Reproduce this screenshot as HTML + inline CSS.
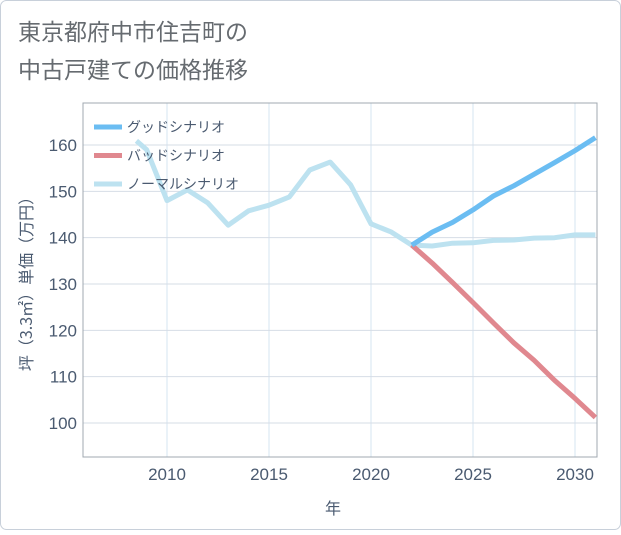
<!DOCTYPE html>
<html><head><meta charset="utf-8"><style>
body{margin:0;background:#fff;}
#wrap{position:relative;width:621px;height:530px;font-family:"Liberation Sans","Noto Sans CJK JP",sans-serif;}
</style></head><body>
<div id="wrap">
<svg id="chart" width="621" height="530" xmlns="http://www.w3.org/2000/svg">
<rect x="0.5" y="0.5" width="620" height="529" rx="6" fill="#fff" stroke="#c8d0da"/>
<text x="18" y="40" font-size="23" fill="#666b70" font-family="Noto Sans CJK JP, sans-serif">東京都府中市住吉町の</text>
<text x="18" y="78" font-size="23" fill="#666b70" font-family="Noto Sans CJK JP, sans-serif">中古戸建ての価格推移</text>
<g id="grid"></g>
<g id="series"></g>
<g id="legend"></g>
<text x="333" y="514" font-size="16" fill="#4a5a70" text-anchor="middle" font-family="Noto Sans CJK JP, sans-serif">年</text>
<text transform="translate(32,280) rotate(-90)" font-size="16" fill="#4a5a70" text-anchor="middle" font-family="Noto Sans CJK JP, sans-serif">坪（3.3㎡）単価（万円）</text>
</svg>
</div>
<script>
const xTicks=[2010,2015,2020,2025,2030];
const yTicks=[100,110,120,130,140,150,160];
const normalYears=[2008.5,2009,2010,2011,2012,2013,2014,2015,2016,2017,2018,2019,2020,2021,2022,2023,2024,2025,2026,2027,2028,2029,2030,2031];
const normalVals=[160.9,159,148,150.3,147.5,142.7,145.8,147,148.8,154.6,156.3,151.4,143,141.2,138.4,138.2,138.8,138.9,139.4,139.5,139.9,140,140.6,140.6];
const futureYears=[2022,2023,2024,2025,2026,2027,2028,2029,2030,2031];
const goodVals=[138.4,141.2,143.3,146,149,151.2,153.7,156.2,158.8,161.6];
const badVals=[138.4,134.5,130.3,126,121.6,117.3,113.5,109.2,105.3,101.2];
const seriesNames=['グッドシナリオ','バッドシナリオ','ノーマルシナリオ'];
const seriesColors=['#6bbdf2','#e0888f','#bde2f0'];

const L=83,R=597,T=103,B=457;
const X=y=>167+(y-2010)*20.4;
const Y=v=>145+(160-v)*4.633;
const NS='http://www.w3.org/2000/svg';
function mk(tag,attrs,parent,txt){const e=document.createElementNS(NS,tag);for(const k in attrs)e.setAttribute(k,attrs[k]);if(txt!==undefined)e.textContent=txt;parent.appendChild(e);return e;}
const grid=document.getElementById('grid');
xTicks.forEach(t=>{
 const l=mk('line',{x1:X(t),x2:X(t),y1:T,y2:B,stroke:'#d6e4f0','stroke-width':1},grid);
 
 
 const tx=mk('text',{x:X(t),y:480,'font-size':17,fill:'#4a5a70','text-anchor':'middle'},grid,String(t));
 
 
});
yTicks.forEach(t=>{
 const l=mk('line',{x1:L,x2:R,y1:Y(t),y2:Y(t),stroke:'#d6dde6','stroke-width':1},grid);
 
 
 const tx=mk('text',{x:77,y:Y(t)+6,'font-size':17,fill:'#4a5a70','text-anchor':'end'},grid,String(t));
 
 
});
const frame=mk('path',{d:`M${L},${T} L${R},${T} L${R},${B} L${L},${B} Z`,fill:'none',stroke:'#a0a8b0','stroke-width':1},grid);


const ser=document.getElementById('series');
function line(xs,vs,color,name){
 const d=xs.map((x,i)=>(i?'L':'M')+X(x).toFixed(1)+','+Y(vs[i]).toFixed(1)).join(' ');
 const p=mk('path',{d:d,fill:'none',stroke:color,'stroke-width':5,'stroke-linejoin':'round'},ser);
 
 
}
line(normalYears,normalVals,seriesColors[2],'normal-scenario-line');
line(futureYears,badVals,seriesColors[1],'bad-scenario-line');
line(futureYears,goodVals,seriesColors[0],'good-scenario-line');
const leg=document.getElementById('legend');
seriesNames.forEach((n,i)=>{
 const y=127+i*28.5;
 const l=mk('line',{x1:94,x2:122,y1:y,y2:y,stroke:seriesColors[i],'stroke-width':5},leg);
 
 
 const t=mk('text',{x:127,y:y+5,'font-size':14,fill:'#4a5a70','font-family':'Noto Sans CJK JP, sans-serif'},leg,n);
 
 
});
</script>
</body></html>
